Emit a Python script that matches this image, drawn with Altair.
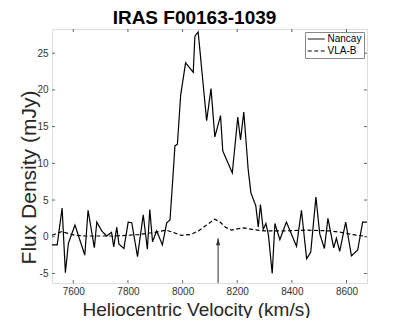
import altair as alt
import pandas as pd

# ---- data ----
nancay_v = [7522, 7541, 7559, 7571, 7582, 7606, 7642, 7654, 7677, 7686, 7704, 7722,
            7740, 7748, 7759, 7767, 7785, 7801, 7814, 7835, 7856, 7871, 7880, 7890,
            7905, 7926, 7942, 7954, 7966, 7972, 7981, 7993, 8011, 8039, 8045, 8057,
            8088, 8104, 8118, 8139, 8147, 8182, 8202, 8212, 8224, 8240, 8250, 8268,
            8277, 8285, 8295, 8305, 8314, 8328, 8338, 8356, 8380, 8417, 8435, 8454,
            8469, 8488, 8502, 8519, 8532, 8553, 8563, 8575, 8597, 8618, 8641, 8659, 8675]
nancay_f = [-1.1, -1.1, 3.9, -4.9, -0.9, 1.6, -2.5, 3.6, -1.5, 2.0, 0.8, 0.1,
            0.6, -1.4, 1.3, -1.0, -1.6, 2.0, 1.9, -2.7, 3.0, -1.7, 3.7, -0.7,
            0.8, -1.1, 1.9, 2.3, 8.9, 12.4, 12.6, 19.3, 23.7, 22.4, 27.3, 27.9,
            15.8, 20.2, 13.6, 16.5, 11.7, 8.7, 16.3, 13.2, 17.0, 9.2, 6.0, 4.2,
            1.3, 4.4, 1.0, 1.8, 0.3, -5.0, 1.8, -0.4, 2.0, -1.3, 3.6, -3.0,
            -2.1, 5.4, 0.4, -1.6, 2.5, -1.5, -0.2, -2.0, 2.0, -2.6, -1.8, 2.0, 2.0]

vla_v = [7522, 7557, 7606, 7645, 7700, 7750, 7800, 7838, 7899, 7940, 7965, 7995,
         8030, 8058, 8088, 8118, 8137, 8157, 8179, 8205, 8224, 8255, 8300, 8370,
         8450, 8540, 8580, 8620, 8660, 8675]
vla_f = [0.2, 0.7, 0.2, 0.1, 0.1, 0.1, 0.2, 0.3, 0.6, 0.9, 0.6, 0.2,
         0.3, 0.8, 1.6, 2.4, 2.0, 1.3, 0.9, 1.1, 1.2, 1.0, 0.8, 0.8,
         0.9, 0.8, 0.6, 0.3, 0.1, 0.0]

series_names = ["Nancay", "VLA-B"]
x_ticks = [7600, 7800, 8000, 8200, 8400, 8600]
y_ticks = [-5, 0, 5, 10, 15, 20, 25]
x_domain = [7522, 8675]
y_domain = [-6.3, 28.3]
arrow_v = [8130]
arrow_tip = [-0.2]

W, H = 315, 254
FONT = "Liberation Sans"

df = pd.concat([
    pd.DataFrame({"v": nancay_v, "f": nancay_f, "series": series_names[0]}),
    pd.DataFrame({"v": vla_v, "f": vla_f, "series": series_names[1]}),
])
xt = pd.DataFrame({"v": x_ticks})
yt = pd.DataFrame({"f": y_ticks})
arr = pd.DataFrame({"v": arrow_v, "f": arrow_tip, "b": [y_domain[0]]})

xs = alt.Scale(domain=x_domain, nice=False, zero=False)
ys = alt.Scale(domain=y_domain, nice=False, zero=False)

xaxis = alt.Axis(
    title="Heliocentric Velocity (km/s)", values=x_ticks, ticks=False, domain=False,
    grid=False, labelFontSize=10, labelFont=FONT, labelColor="#333", labelPadding=3,
    labelExpr="'' + datum.value",
    titleFont=FONT, titleFontSize=19, titleFontWeight="normal", titleColor="#262626",
    titleX=144, titleY=32, titleBaseline="alphabetic", titleAlign="center")
yaxis = alt.Axis(
    title="Flux Density (mJy)", values=y_ticks, ticks=False, domain=False,
    grid=False, labelFontSize=10, labelFont=FONT, labelColor="#333", labelPadding=4,
    labelExpr="'' + datum.value",
    titleFont=FONT, titleFontSize=21, titleFontWeight="normal", titleColor="#262626",
    titleX=-17, titleY=148, titleBaseline="alphabetic", titleAlign="center", titleAngle=270)

lines = alt.Chart(df).mark_line(color="black", strokeWidth=1.2, clip=True).encode(
    x=alt.X("v:Q", scale=xs, axis=xaxis),
    y=alt.Y("f:Q", scale=ys, axis=yaxis),
    strokeDash=alt.StrokeDash("series:N", scale=alt.Scale(domain=series_names, range=[[1, 0], [4, 2.5]]),
                              legend=alt.Legend(title=None, orient="none", legendX=253, legendY=3,
                                                strokeColor="#888", fillColor="white", padding=2,
                                                rowPadding=2, labelFont=FONT, labelFontSize=10,
                                                labelColor="black", labelOffset=10.5,
                                                symbolType="M-1,0H3", symbolSize=72,
                                                symbolFillColor="transparent",
                                                symbolStrokeColor="black", symbolStrokeWidth=1)),
    detail="series:N",
)

tick_b = alt.Chart(xt).mark_rule(color="#666").encode(
    x=alt.X("v:Q", scale=xs, axis=xaxis), y=alt.value(H), y2=alt.value(H - 3))
tick_t = alt.Chart(xt).mark_rule(color="#666").encode(
    x=alt.X("v:Q", scale=xs, axis=xaxis), y=alt.value(0), y2=alt.value(3))
tick_l = alt.Chart(yt).mark_rule(color="#666").encode(
    y=alt.Y("f:Q", scale=ys, axis=yaxis), x=alt.value(0), x2=alt.value(3))
tick_r = alt.Chart(yt).mark_rule(color="#666").encode(
    y=alt.Y("f:Q", scale=ys, axis=yaxis), x=alt.value(W), x2=alt.value(W - 3))

arrow_line = alt.Chart(arr).mark_rule(color="#333", strokeWidth=1).encode(
    x=alt.X("v:Q", scale=xs, axis=xaxis), y=alt.Y("f:Q", scale=ys, axis=yaxis), y2="b:Q")
arrow_head = alt.Chart(arr).mark_point(
    shape="M0,-1L0.6,1L-0.6,1Z", filled=True, color="#333", size=49, opacity=1, yOffset=3.5
).encode(x=alt.X("v:Q", scale=xs, axis=xaxis), y=alt.Y("f:Q", scale=ys, axis=yaxis))

chart = alt.layer(lines, tick_b, tick_t, tick_l, tick_r, arrow_line, arrow_head).properties(
    width=W, height=H,
    title=alt.TitleParams("IRAS F00163-1039", font=FONT, fontSize=19, fontWeight="bold",
                          color="black", anchor="middle", frame="group", dx=-15, dy=25,
                          baseline="alphabetic", offset=11),
    autosize=alt.AutoSizeParams(type="none"),
    padding={"left": 44, "top": 21, "right": 32, "bottom": 35},
).configure_view(stroke="#888", strokeWidth=1).configure(background="white")

chart.save("out.html", embed_options={"renderer": "svg", "actions": False})
